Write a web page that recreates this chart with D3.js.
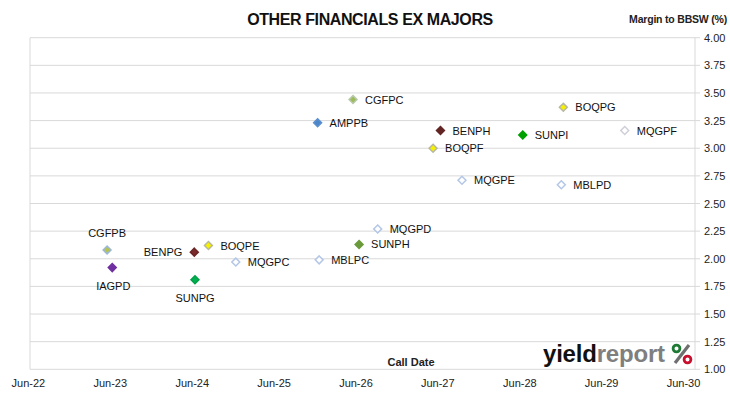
<!DOCTYPE html>
<html>
<head>
<meta charset="utf-8">
<script src="https://d3js.org/d3.v7.min.js"></script>
<style>
  body { margin: 0; background: #fff; }
  text { font-family: "Liberation Sans", Arial, sans-serif; }
</style>
</head>
<body>
<div id="chart"></div>
<script>
// data
const securities = ["CGFPB", "IAGPD", "BENPG", "BOQPE", "MQGPC", "SUNPG", "AMPPB", "CGFPC", "MBLPC",
                    "SUNPH", "MQGPD", "BENPH", "BOQPF", "MQGPE", "SUNPI", "BOQPG", "MBLPD", "MQGPF"];
const callDates = ["2023-05-18", "2023-06-10", "2024-06-10", "2024-08-12", "2024-12-12", "2024-06-13",
                   "2025-12-12", "2026-05-19", "2025-12-19", "2026-06-15", "2026-09-06", "2027-06-13",
                   "2027-05-11", "2027-09-17", "2028-06-14", "2028-12-12", "2028-12-03", "2029-09-12"];
const margins = [2.08, 1.92, 2.06, 2.12, 1.97, 1.81, 3.23, 3.44, 1.99,
                 2.13, 2.27, 3.16, 3.00, 2.71, 3.12, 3.37, 2.67, 3.16];
const xTicks = ["2022-06-01", "2023-06-01", "2024-06-01", "2025-06-01", "2026-06-01",
                "2027-06-01", "2028-06-01", "2029-06-01", "2030-06-01"];
const yTicks = [1.00, 1.25, 1.50, 1.75, 2.00, 2.25, 2.50, 2.75, 3.00, 3.25, 3.50, 3.75, 4.00];

// marker styles [fill, stroke]
const markerStyle = {
  CGFPB: ["#b8c24e", "#9cb8d8"], IAGPD: ["#7030a0", "#7030a0"], BENPG: ["#7a2a2a", "#6b2424"],
  BOQPE: ["#f5f000", "#b8b8a0"], MQGPC: ["#ffffff", "#b4c7e7"], SUNPG: ["#00b050", "#00a048"],
  AMPPB: ["#4a86c8", "#5b8fd0"], CGFPC: ["#9bbb59", "#b8c8a8"], MBLPC: ["#ffffff", "#b4c7e7"],
  SUNPH: ["#6a9a3a", "#6a9a3a"], MQGPD: ["#ffffff", "#b4c7e7"], BENPH: ["#632523", "#632523"],
  BOQPF: ["#f5f000", "#b8b8a0"], MQGPE: ["#ffffff", "#b4c7e7"], SUNPI: ["#00a000", "#00a000"],
  BOQPG: ["#f5f000", "#b8b8a0"], MBLPD: ["#ffffff", "#b4c7e7"], MQGPF: ["#ffffff", "#d0d0d8"]
};
// label placement relative to marker
const labelPos = { CGFPB: "above", IAGPD: "below", BENPG: "left", SUNPG: "below" };

const W = 730, H = 399;
const plot = { left: 30, right: 695, top: 37.7, bottom: 369.3 };

const svg = d3.select("#chart").append("svg")
  .attr("width", W).attr("height", H);

const parse = d3.timeParse("%Y-%m-%d");
const x = d3.scaleTime()
  .domain([parse(xTicks[0]), parse(xTicks[xTicks.length - 1])])
  .range([28.4, 683.5]);
const y = d3.scaleLinear().domain([1, 4]).range([plot.bottom, plot.top]);

// gridlines (extend a little right as tick marks)
svg.append("g").selectAll("line").data(yTicks).enter().append("line")
  .attr("x1", plot.left).attr("x2", 700)
  .attr("y1", d => y(d)).attr("y2", d => y(d))
  .attr("stroke", "#d9d9d9").attr("stroke-width", 1);
svg.append("line")
  .attr("x1", plot.left).attr("x2", plot.left)
  .attr("y1", plot.top).attr("y2", plot.bottom)
  .attr("stroke", "#d9d9d9");
svg.append("line")
  .attr("x1", plot.right).attr("x2", plot.right)
  .attr("y1", plot.top).attr("y2", plot.bottom)
  .attr("stroke", "#d9d9d9");

// right axis labels
svg.append("g").selectAll("text").data(yTicks).enter().append("text")
  .attr("x", 704).attr("y", d => y(d) + 4)
  .attr("font-size", 11).attr("fill", "#222")
  .text(d => d.toFixed(2));

// x axis labels
svg.append("g").selectAll("text").data(xTicks).enter().append("text")
  .attr("x", d => x(parse(d))).attr("y", 387)
  .attr("text-anchor", "middle").attr("font-size", 11).attr("fill", "#222")
  .text(d => d3.timeFormat("%b-%y")(parse(d)));

// titles
svg.append("text")
  .attr("x", 370).attr("y", 25)
  .attr("text-anchor", "middle")
  .attr("font-size", 16).attr("font-weight", "bold").attr("fill", "#111")
  .attr("letter-spacing", -0.4)
  .text("OTHER FINANCIALS EX MAJORS");
svg.append("text")
  .attr("x", 727).attr("y", 23)
  .attr("text-anchor", "end")
  .attr("font-size", 10.5).attr("font-weight", "bold").attr("fill", "#222")
  .attr("letter-spacing", -0.2)
  .text("Margin to BBSW (%)");
svg.append("text")
  .attr("x", 411).attr("y", 366)
  .attr("text-anchor", "middle")
  .attr("font-size", 11).attr("font-weight", "bold").attr("fill", "#222")
  .text("Call Date");

// logo
const logo = svg.append("text")
  .attr("x", 543).attr("y", 362)
  .attr("font-size", 24).attr("font-weight", "bold")
  .attr("letter-spacing", -0.2);
logo.append("tspan").attr("fill", "#111").text("yield");
logo.append("tspan").attr("fill", "#7f7f7f").text("report");
const pct = svg.append("g").attr("transform", "translate(682,354)");
pct.append("line").attr("x1", -7).attr("y1", 9).attr("x2", 7).attr("y2", -9)
  .attr("stroke", "#6f6f6f").attr("stroke-width", 3.2);
pct.append("circle").attr("cx", -5.5).attr("cy", -5.5).attr("r", 3.4)
  .attr("fill", "none").attr("stroke", "#1e7a34").attr("stroke-width", 2.8);
pct.append("circle").attr("cx", 5.5).attr("cy", 5.5).attr("r", 3.4)
  .attr("fill", "none").attr("stroke", "#c8102e").attr("stroke-width", 2.8);

// points
const pts = securities.map((s, i) => ({ name: s, date: parse(callDates[i]), margin: margins[i] }));
const diamond = d3.symbol().type(d3.symbolDiamond2).size(40);

svg.append("g").selectAll("path").data(pts).enter().append("path")
  .attr("d", diamond)
  .attr("transform", d => `translate(${x(d.date)},${y(d.margin)})`)
  .attr("fill", d => markerStyle[d.name][0])
  .attr("stroke", d => markerStyle[d.name][1])
  .attr("stroke-width", 1.5);

svg.append("g").selectAll("text").data(pts).enter().append("text")
  .attr("font-size", 11).attr("fill", "#111")
  .attr("x", d => {
    const p = labelPos[d.name], px = x(d.date);
    if (p === "above" || p === "below") return px + (d.name === "IAGPD" ? 1 : 0);
    if (p === "left") return px - 12;
    return px + 12;
  })
  .attr("y", d => {
    const p = labelPos[d.name], py = y(d.margin);
    if (p === "above") return py - 13;
    if (p === "below") return py + 22;
    return py + 4;
  })
  .attr("text-anchor", d => {
    const p = labelPos[d.name];
    if (p === "above" || p === "below") return "middle";
    if (p === "left") return "end";
    return "start";
  })
  .text(d => d.name);
</script>
</body>
</html>
